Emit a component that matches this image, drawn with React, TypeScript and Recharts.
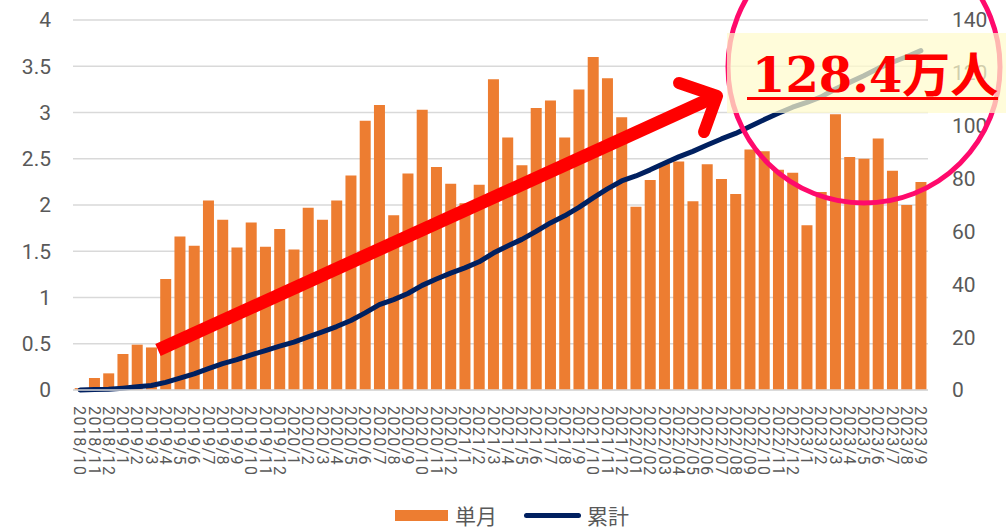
import React from "react";
import {
  ComposedChart,
  Bar,
  Line,
  XAxis,
  YAxis,
  CartesianGrid,
  Legend,
} from "recharts";

// months 2018/10 .. 2023/9 (2022 is zero padded in the source)
const months = [
  "2018/10", "2018/11", "2018/12",
  "2019/1", "2019/2", "2019/3", "2019/4", "2019/5", "2019/6", "2019/7", "2019/8", "2019/9", "2019/10", "2019/11", "2019/12",
  "2020/1", "2020/2", "2020/3", "2020/4", "2020/5", "2020/6", "2020/7", "2020/8", "2020/9", "2020/10", "2020/11", "2020/12",
  "2021/1", "2021/2", "2021/3", "2021/4", "2021/5", "2021/6", "2021/7", "2021/8", "2021/9", "2021/10", "2021/11", "2021/12",
  "2022/01", "2022/02", "2022/03", "2022/04", "2022/05", "2022/06", "2022/07", "2022/08", "2022/09", "2022/10", "2022/11", "2022/12",
  "2023/1", "2023/2", "2023/3", "2023/4", "2023/5", "2023/6", "2023/7", "2023/8", "2023/9",
];

// 単月 (万人)
const monthly = [
  0.02, 0.13, 0.18,
  0.39, 0.49, 0.46, 1.2, 1.66, 1.56, 2.05, 1.84, 1.54, 1.81, 1.55, 1.74,
  1.52, 1.97, 1.84, 2.05, 2.32, 2.91, 3.08, 1.89, 2.34, 3.03, 2.41, 2.23,
  2.02, 2.22, 3.36, 2.73, 2.43, 3.05, 3.13, 2.73, 3.25, 3.6, 3.37, 2.95,
  1.98, 2.27, 2.45, 2.47, 2.04, 2.44, 2.28, 2.12, 2.6, 2.58, 2.38, 2.35,
  1.78, 2.14, 2.98, 2.52, 2.5, 2.72, 2.37, 2.0, 2.25,
];

// 累計 (万人)
const cumulative = [
  0.0, 0.2, 0.3,
  0.7, 1.2, 1.7, 2.9, 4.5, 6.1, 8.1, 10.0, 11.5, 13.3, 14.9, 16.6,
  18.1, 20.1, 22.0, 24.0, 26.3, 29.2, 32.3, 34.2, 36.5, 39.6, 42.0, 44.2,
  46.2, 48.5, 51.8, 54.5, 57.0, 60.0, 63.2, 65.9, 69.1, 72.7, 76.1, 79.1,
  81.0, 83.3, 85.8, 88.2, 90.3, 92.7, 95.0, 97.1, 99.7, 102.3, 104.7, 107.0,
  108.8, 110.9, 113.9, 116.4, 118.9, 121.7, 124.0, 126.1, 128.4,
];

const leftTicks = [0, 0.5, 1, 1.5, 2, 2.5, 3, 3.5, 4];
const rightTicks = [0, 20, 40, 60, 80, 100, 120, 140];

const data = months.map((m, i) => ({
  month: m,
  monthly: monthly[i],
  cumulative: cumulative[i],
}));

const FONT = "Roboto, 'Noto Sans CJK JP', sans-serif";
const GRAY = "#595959";
const ORANGE = "#ED7D31";
const NAVY = "#002060";

const MonthTick = ({ x, y, payload }: any) => (
  <text
    x={0}
    y={0}
    transform={`translate(${x},${y + 8}) rotate(90)`}
    dy="0.36em"
    textAnchor="start"
    fill={GRAY}
    fontSize={16}
    letterSpacing={1.4}
    fontFamily={FONT}
  >
    {payload.value}
  </text>
);

const LegendBox = () => (
  <div
    style={{
      display: "flex",
      alignItems: "center",
      height: 24,
      paddingLeft: 395,
      fontFamily: FONT,
      fontSize: 21,
      color: GRAY,
    }}
  >
    <span style={{ width: 53, height: 11, background: ORANGE }} />
    <span style={{ marginLeft: 7 }}>単月</span>
    <span
      style={{
        width: 57,
        height: 5,
        borderRadius: 3,
        background: NAVY,
        marginLeft: 27,
      }}
    />
    <span style={{ marginLeft: 6 }}>累計</span>
  </div>
);

export default function App() {
  return (
    <div style={{ position: "absolute", left: 0, top: 0, width: 1006, height: 527, background: "#fff" }}>
      <ComposedChart
        width={1006}
        height={527}
        data={data}
        margin={{ top: 20, right: 0, left: 0, bottom: 0 }}
        barCategoryGap="12%"
      >
        <CartesianGrid vertical={false} stroke="#d9d9d9" strokeWidth={1.5} yAxisId="left" />
        <XAxis
          dataKey="month"
          interval={0}
          height={113}
          tickLine={false}
          axisLine={{ stroke: "#d9d9d9", strokeWidth: 1.5 }}
          tick={<MonthTick />}
        />
        <YAxis
          yAxisId="left"
          width={73}
          domain={[0, 4]}
          ticks={leftTicks}
          axisLine={false}
          tickLine={false}
          tickMargin={16}
          tick={{ fill: GRAY, fontSize: 21, fontFamily: FONT }}
        />
        <YAxis
          yAxisId="right"
          orientation="right"
          width={78}
          domain={[0, 140]}
          ticks={rightTicks}
          axisLine={false}
          tickLine={false}
          tickMargin={18}
          tick={{ fill: GRAY, fontSize: 21, fontFamily: FONT }}
        />
        <Bar yAxisId="left" dataKey="monthly" name="単月" fill={ORANGE} isAnimationActive={false} />
        <Line
          yAxisId="right"
          dataKey="cumulative"
          name="累計"
          type="linear"
          stroke={NAVY}
          strokeWidth={5}
          strokeLinecap="round"
          strokeLinejoin="round"
          dot={false}
          activeDot={false}
          isAnimationActive={false}
        />
        <Legend verticalAlign="bottom" content={<LegendBox />} />
      </ComposedChart>

      <svg
        width={1006}
        height={527}
        style={{ position: "absolute", left: 0, top: 0, pointerEvents: "none" }}
      >
        <circle cx={864} cy={67} r={136} fill="none" stroke="#FF0A6C" strokeWidth={5} />
        <rect x={727} y={33} width={279} height={80} fill="#FFFBCC" fillOpacity={0.72} />
        <line x1={158} y1={350} x2={712} y2={98} stroke="#FF0000" strokeWidth={13} />
        <polyline
          points="679,83 717,96 704,132"
          fill="none"
          stroke="#FF0000"
          strokeWidth={12}
          strokeLinecap="round"
          strokeLinejoin="round"
        />
        <text
          x={752}
          y={92}
          fill="#FF0000"
          fontSize={48}
          fontWeight="bold"
          fontFamily="'DejaVu Serif', 'Noto Sans CJK JP', serif"
        >
          128.4万人
        </text>
        <line x1={747} y1={98.5} x2={998} y2={98.5} stroke="#FF0000" strokeWidth={3} />
      </svg>
    </div>
  );
}
